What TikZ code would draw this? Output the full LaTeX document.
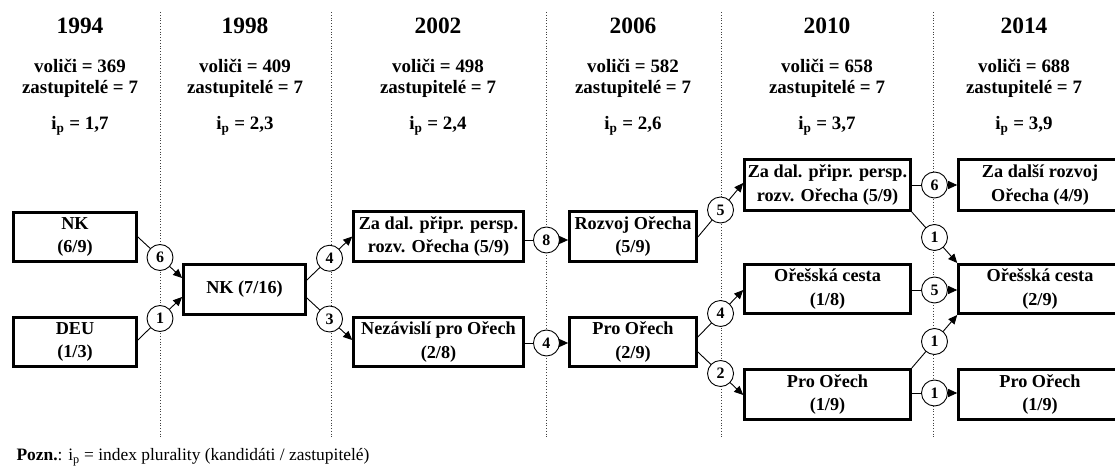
\documentclass[tikz,border=0pt]{standalone}
\usepackage{fontspec}
\setmainfont{Liberation Serif}
\usetikzlibrary{arrows.meta,calc}
\begin{document}
\begin{tikzpicture}[x=1bp,y=-1bp,
  box/.style={draw, line width=3.2bp, inner sep=0pt, align=center, font=\fontsize{18.3}{24}\selectfont\bfseries},
  circ/.style={draw, circle, fill=white, line width=0.9bp, minimum size=26bp, inner sep=0pt, font=\fontsize{16}{16}\selectfont\bfseries},
  conn/.style={line width=0.9bp, -{Triangle[length=9bp,width=8bp]}},
  sepline/.style={dotted, line width=0.8bp, black!75},
  yr/.style={font=\fontsize{23.5}{23.5}\selectfont\bfseries},
  hd/.style={font=\fontsize{19}{19}\selectfont\bfseries},
]
\useasboundingbox (0,0) rectangle (1115,468);
\clip (0,0) rectangle (1115,468);
\fill[white] (0,0) rectangle (1115,468);

% separators
\foreach \x in {160,331,546,721,933} \draw[sepline] (\x,12) -- (\x,438);

% headers
\foreach \n/\cx/\yr/\v/\ip in {1/80/1994/369/{1,7},2/245/1998/409/{2,3},3/438/2002/498/{2,4},4/633/2006/582/{2,6},5/827/2010/658/{3,7},6/1024/2014/688/{3,9}}{
  \node[yr] (y\n) at (\cx,26) {\yr};
  \node[hd] (v\n) at (\cx,66) {voliči = \v};
  \node[hd] (z\n) at (\cx,89) {zastupitelé = 7};
  \node[hd] (i\n) at (\cx,126) {i\textsubscript{p} = \ip};
}

% boxes
\node[box, minimum width=123, minimum height=49] (A) at (75,237) {NK\\(6/9)};
\node[box, minimum width=123, minimum height=49] (B) at (75,342) {DEU\\(1/3)};
\node[box, minimum width=122, minimum height=50] (C) at (244.5,289.5) {NK (7/16)};
\node[box, minimum width=170, minimum height=50] (D) at (438.5,236.5) {Za dal. připr. persp.\\rozv. Ořecha (5/9)};
\node[box, minimum width=170, minimum height=49] (E) at (438.5,342) {Nezávislí pro Ořech\\(2/8)};
\node[box, minimum width=127, minimum height=50] (F) at (633,236.5) {Rozvoj Ořecha\\(5/9)};
\node[box, minimum width=127, minimum height=49] (G) at (633,342) {Pro Ořech\\(2/9)};
\node[box, minimum width=166, minimum height=51] (H) at (827.5,185) {Za dal. připr. persp.\\rozv. Ořecha (5/9)};
\node[box, minimum width=166, minimum height=49] (I) at (827.5,289) {Ořešská cesta\\(1/8)};
\node[box, minimum width=166, minimum height=50] (J) at (827.5,394.5) {Pro Ořech\\(1/9)};
\node[box, minimum width=163, minimum height=51] (K) at (1040,185) {Za další rozvoj\\Ořecha (4/9)};
\node[box, minimum width=163, minimum height=49] (L) at (1040,289) {Ořešská cesta\\(2/9)};
\node[box, minimum width=163, minimum height=50] (M) at (1040,394.5) {Pro Ořech\\(1/9)};

% connectors
\draw[conn] (A.east) -- node[circ]{6} ($(C.west)+(0,-11.5)$);
\draw[conn] ($(B.east)+(0,-2)$) -- node[circ]{1} ($(C.west)+(0,7.5)$);
\draw[conn] ($(C.east)+(0,-9.5)$) -- node[circ]{4} (D.west);
\draw[conn] ($(C.east)+(0,8.5)$) -- node[circ]{3} ($(E.west)+(0,-2)$);
\draw[conn] ($(D.east)+(0,3.5)$) -- node[circ]{8} ($(F.west)+(0,3.5)$);
\draw[conn] ($(E.east)+(0,1)$) -- node[circ]{4} ($(G.west)+(0,1)$);
\draw[conn] ($(F.east)+(0,0.5)$) -- node[circ]{5} ($(H.west)+(0,-2)$);
\draw[conn] ($(G.east)+(0,-5)$) -- node[circ]{4} ($(I.west)+(0,1)$);
\draw[conn] ($(G.east)+(0,10)$) -- node[circ]{2} ($(J.west)+(0,0.5)$);
\draw[conn] (H.east) -- node[circ]{6} (K.west);
\draw[conn] (H.south east) -- node[circ]{1} (L.north west);
\draw[conn] ($(I.east)+(0,1)$) -- node[circ]{5} ($(L.west)+(0,1)$);
\draw[conn] (J.north east) -- node[circ]{1} (L.south west);
\draw[conn] ($(J.east)+(0,-1.5)$) -- node[circ]{1} ($(M.west)+(0,-1.5)$);

% note
\node[anchor=west, font=\fontsize{17.5}{17.5}\selectfont] (note) at (13,457) {\textbf{Pozn.}: i\textsubscript{p} = index plurality (kandidáti / zastupitelé)};
\end{tikzpicture}
\end{document}
